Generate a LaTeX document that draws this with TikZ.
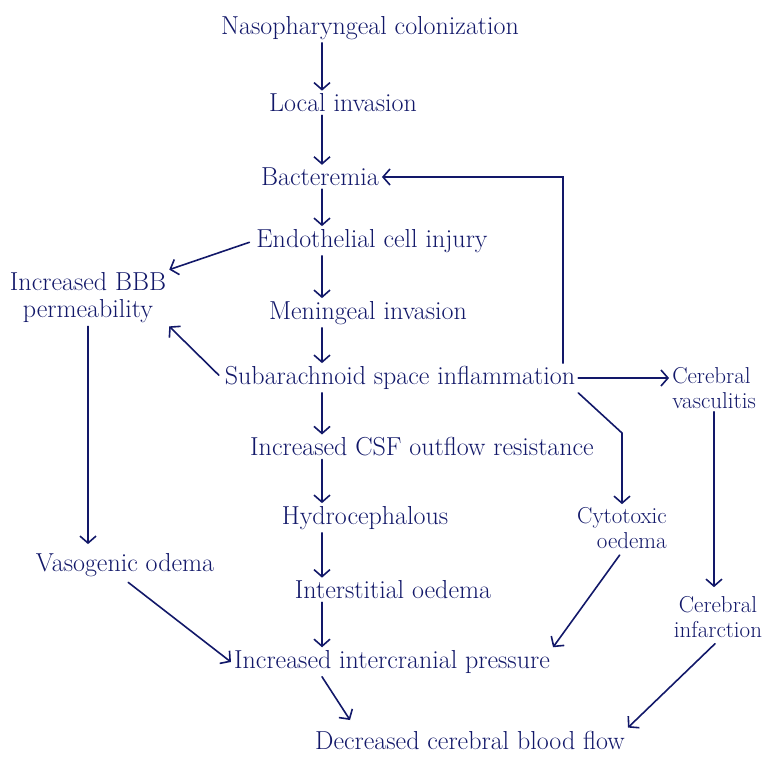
\documentclass[tikz,border=0pt]{standalone}
\usepackage{tikz}
\usetikzlibrary{arrows.meta}

\definecolor{ink}{RGB}{18,24,105}

\begin{document}
\begin{tikzpicture}[x=1pt,y=-1pt,
    every node/.style={text=ink, font=\fontsize{26}{27}\selectfont, inner sep=3pt},
    small/.style={font=\fontsize{23}{25}\selectfont},
    arr/.style={draw=ink, line width=1.6pt, line cap=round,
      -{Straight Barb[length=7pt,width=16pt,line width=1.6pt]}}]
  \useasboundingbox (0,0) rectangle (766,758);
  \coordinate (colx) at (322,0);
  \coordinate (turnx) at (563,0);
  \coordinate (bend) at (622,433);
  \coordinate (tip) at (350,720);
  % main column
  \node (naso) at (370,28) {Nasopharyngeal colonization};
  \node (loc) at (343,103) {Local invasion};
  \node (bact) at (320,177) {Bacteremia};
  \node (endo) at (372,241) {Endothelial cell injury};
  \node (men) at (368,313) {Meningeal invasion};
  \node (sub) at (400,378) {Subarachnoid space inflammation};
  \node (csf) at (422,447) {Increased CSF outflow resistance};
  \node (hyd) at (365,518) {Hydrocephalous};
  \node (inter) at (393,590) {Interstitial oedema};
  \node (icp) at (392,662) {Increased intercranial pressure};
  \node (dcbf) at (470,740) {Decreased cerebral blood flow};
  % side branches
  \node[align=center] (bbb) at (88,298) {Increased BBB\\permeability};
  \node (vaso) at (125,565) {Vasogenic odema};
  \node[small, align=left] (vasc) at (714,388) {Cerebral\\vasculitis};
  \node[small, align=right] (cyto) at (622,528) {Cytotoxic\\oedema};
  \node[small, align=center] (inf) at (718,617) {Cerebral\\infarction};

  \draw[arr] (naso.south -| colx) -- (loc.north -| colx);
  \draw[arr] (loc.south -| colx) -- (bact.north -| colx);
  \draw[arr] (bact.south -| colx) -- (endo.north -| colx);
  \draw[arr] (endo.south -| colx) -- (men.north -| colx);
  \draw[arr] (men.south -| colx) -- (sub.north -| colx);
  \draw[arr] (sub.south -| colx) -- (csf.north -| colx);
  \draw[arr] (csf.south -| colx) -- (hyd.north -| colx);
  \draw[arr] (hyd.south -| colx) -- (inter.north -| colx);
  \draw[arr] (inter.south -| colx) -- (icp.north -| colx);
  \draw[arr] (icp.south -| colx) -- (tip);

  \draw[arr, shorten <=4pt] (endo.west) -- (bbb.north east);
  \draw[arr, shorten <=4pt] (sub.west) -- (bbb.south east);
  \draw[arr] (sub.north -| turnx) |- (bact.east);
  \draw[arr] (sub.east) -- (sub.east -| vasc.west);
  \draw[arr] (sub.south east) -- (bend) -- (cyto.north);
  \draw[arr, shorten >=6pt] (bbb.south) -- (bbb.south |- vaso.north);
  \draw[arr, shorten <=4pt] (vaso.south) -- (icp.west);
  \draw[arr, shorten <=4pt] (cyto.south) -- (icp.north east);
  \draw[arr, shorten >=6pt] (vasc.south) -- (vasc.south |- inf.north);
  \draw[arr, shorten <=4pt] (inf.south) -- (dcbf.north east);
\end{tikzpicture}
\end{document}
